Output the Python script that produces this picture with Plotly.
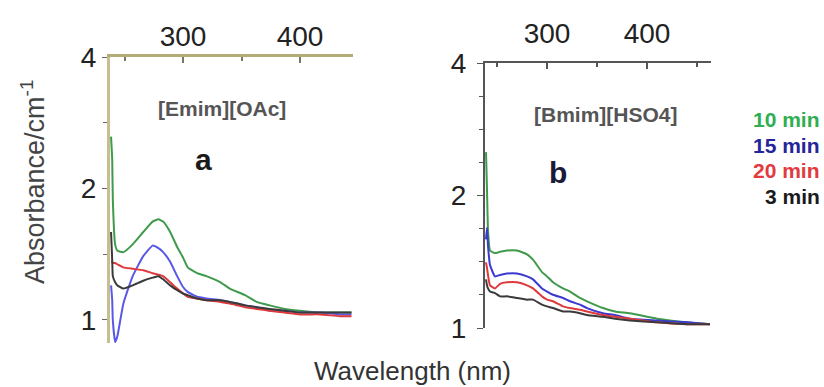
import plotly.graph_objects as go

# Wavelength grids (nm) for the two ionic-liquid panels
wl_a = [238.5, 239.5, 240, 242, 244, 249, 257, 266, 274, 279, 283, 289, 295,
        300, 304, 312, 320, 332, 340, 353, 363, 374, 387, 400, 417, 434, 444]
wl_b = [239, 240, 241, 243, 248, 253, 260, 270, 280, 286, 295, 300, 306, 316,
        323, 333, 340, 356, 368, 383, 410, 440, 463]

# Panel a: [Emim][OAc]
a_10 = [2.63, 2.33, 1.89, 1.49, 1.44, 1.43, 1.49, 1.59, 1.68, 1.70, 1.68, 1.59, 1.47,
        1.39, 1.32, 1.28, 1.26, 1.22, 1.18, 1.14, 1.10, 1.08, 1.06, 1.05, 1.04, 1.04, 1.04]
a_15 = [1.20, 1.11, 1.00, 0.89, 0.92, 1.09, 1.26, 1.40, 1.48, 1.46, 1.43, 1.36, 1.26,
        1.19, 1.16, 1.13, 1.12, 1.11, 1.10, 1.08, 1.07, 1.05, 1.05, 1.04, 1.04, 1.03, 1.03]
a_20 = [1.36, 1.36, 1.35, 1.35, 1.34, 1.32, 1.31, 1.30, 1.28, 1.27, 1.26, 1.22, 1.18,
        1.15, 1.13, 1.12, 1.11, 1.10, 1.09, 1.07, 1.06, 1.05, 1.04, 1.03, 1.03, 1.02, 1.02]
a_3 = [1.59, 1.37, 1.26, 1.22, 1.20, 1.18, 1.20, 1.23, 1.25, 1.26, 1.24, 1.20, 1.17,
       1.15, 1.14, 1.12, 1.11, 1.11, 1.10, 1.08, 1.07, 1.06, 1.05, 1.04, 1.04, 1.04, 1.04]

# Panel b: [Bmim][HSO4]
b_10 = [2.51, 2.06, 1.67, 1.50, 1.48, 1.49, 1.50, 1.50, 1.47, 1.43, 1.34, 1.31, 1.27,
        1.23, 1.21, 1.17, 1.15, 1.11, 1.09, 1.08, 1.05, 1.03, 1.02]
b_15 = [1.59, 1.69, 1.54, 1.39, 1.31, 1.32, 1.33, 1.33, 1.31, 1.29, 1.23, 1.21, 1.19,
        1.17, 1.15, 1.13, 1.11, 1.08, 1.07, 1.05, 1.04, 1.03, 1.02]
b_20 = [1.41, 1.37, 1.32, 1.25, 1.23, 1.26, 1.27, 1.27, 1.25, 1.23, 1.18, 1.16, 1.15,
        1.12, 1.11, 1.10, 1.09, 1.07, 1.06, 1.05, 1.03, 1.02, 1.02]
b_3 = [1.29, 1.25, 1.23, 1.21, 1.20, 1.18, 1.18, 1.17, 1.16, 1.16, 1.13, 1.12, 1.11,
       1.09, 1.09, 1.08, 1.07, 1.06, 1.05, 1.04, 1.03, 1.02, 1.02]

series_names = ["10 min", "15 min", "20 min", "3 min"]
colors_a = ["#3f9a4c", "#5a58e6", "#e0393b", "#3a3a3a"]
colors_b = ["#3f9a4c", "#3a3ad0", "#e0393b", "#3a3a3a"]
legend_colors = ["#2fae52", "#25259a", "#e23a3e", "#1a1a1a"]

x_ticks = [300, 400]
y_ticks = [1, 2, 4]
y_tick_text = ["1", "2", "4"]

fig = go.Figure()

for name, ys, col in zip(series_names, [a_10, a_15, a_20, a_3], colors_a):
    fig.add_trace(go.Scatter(x=wl_a, y=ys, mode="lines", name=name, showlegend=False,
                             line=dict(color=col, width=2, shape="spline", smoothing=0.4),
                             xaxis="x", yaxis="y"))
for name, ys, col in zip(series_names, [b_10, b_15, b_20, b_3], colors_b):
    fig.add_trace(go.Scatter(x=wl_b, y=ys, mode="lines", name=name, showlegend=False,
                             line=dict(color=col, width=2, shape="spline", smoothing=0.4),
                             xaxis="x2", yaxis="y2"))

tick_font = dict(family="Liberation Sans, Arial, sans-serif", size=28, color="#222")

fig.update_layout(
    width=824, height=387,
    margin=dict(l=0, r=0, t=0, b=0, pad=0, autoexpand=False),
    showlegend=False,
    paper_bgcolor="white", plot_bgcolor="white",
    xaxis=dict(domain=[110 / 824, 353 / 824], range=[237.6, 445.3], side="top",
               anchor="y", automargin=False, showgrid=False, zeroline=False, showline=True,
               linecolor="#b3ab78", linewidth=2.5, ticks="inside", ticklen=6,
               tickwidth=1.5, tickcolor="#7a7660", tickvals=x_ticks,
               tickfont=tick_font, ticklabelstandoff=-3,
               minor=dict(tickmode="array", tickvals=[250, 350], ticks="inside",
                          ticklen=4, tickcolor="#7a7660")),
    yaxis=dict(domain=[1 - 343 / 387, 1 - 57 / 387], type="log",
               range=[-0.0527, 0.6022], anchor="x", automargin=False, showgrid=False,
               zeroline=False,
               showline=True, linecolor="#c6be8e", linewidth=3, ticks="outside",
               ticklen=5, tickcolor="#666", tickvals=y_ticks, ticktext=y_tick_text,
               tickfont=tick_font,
               minor=dict(tickmode="array", tickvals=[2 ** 1.5, 2 ** 0.5],
                          ticks="outside", ticklen=4, tickcolor="#666")),
    xaxis2=dict(domain=[485 / 824, 711 / 824], range=[238, 464], side="top",
                anchor="y2", automargin=False, showgrid=False, zeroline=False,
                showline=True,
                linecolor="#555", linewidth=2, ticks="inside", ticklen=6,
                tickwidth=1.5, tickcolor="#555", tickvals=x_ticks,
                tickfont=tick_font, ticklabelstandoff=7,
                minor=dict(tickmode="array", tickvals=[250, 350, 450], ticks="inside",
                           ticklen=4, tickcolor="#555")),
    yaxis2=dict(domain=[1 - 328 / 387, 1 - 63 / 387], type="log",
                range=[0, 0.6022], anchor="x2", automargin=False, showgrid=False,
                zeroline=False,
                showline=True, linecolor="#555", linewidth=2, ticks="outside",
                ticklen=6, tickcolor="#555", tickvals=y_ticks, ticktext=y_tick_text,
                tickfont=tick_font, ticklabelstandoff=5,
                minor=dict(tickmode="array",
                           tickvals=[2 ** 1.75, 2 ** 1.5, 2 ** 1.25,
                                     2 ** 0.75, 2 ** 0.5, 2 ** 0.25],
                           ticks="outside", ticklen=4, tickcolor="#555")),
)

annotations = [
    dict(text="[Emim][OAc]", x=222 / 824, y=1 - 108 / 387,
         font=dict(family="Liberation Sans, Arial", size=21, color="#555", weight="bold")),
    dict(text="a", x=203 / 824, y=1 - 160 / 387,
         font=dict(family="Liberation Sans, Arial", size=30, color="#1a1a1a", weight="bold")),
    dict(text="[Bmim][HSO4]", x=606 / 824, y=1 - 114 / 387,
         font=dict(family="Liberation Sans, Arial", size=21, color="#555", weight="bold")),
    dict(text="b", x=558 / 824, y=1 - 172 / 387,
         font=dict(family="Liberation Sans, Arial", size=30, color="#1a1a3a", weight="bold")),
    dict(text="Wavelength (nm)", x=412 / 824, y=1 - 371 / 387,
         font=dict(family="Liberation Sans, Arial", size=26, color="#333")),
    dict(text="Absorbance/cm<sup>-1</sup>", x=33 / 824, y=1 - 182 / 387, textangle=-90,
         font=dict(family="Liberation Sans, Arial", size=27, color="#444")),
]
for name, col, ypix in zip(series_names, legend_colors, [119, 145, 170, 196]):
    annotations.append(dict(text=name, x=822 / 824, y=1 - ypix / 387, xanchor="right",
                            font=dict(family="Liberation Sans, Arial", size=21,
                                      color=col, weight="bold")))

for ann in annotations:
    ann.setdefault("xanchor", "center")
    ann.update(xref="paper", yref="paper", yanchor="middle", showarrow=False)
fig.update_layout(annotations=annotations)

fig.write_html("out.html")
